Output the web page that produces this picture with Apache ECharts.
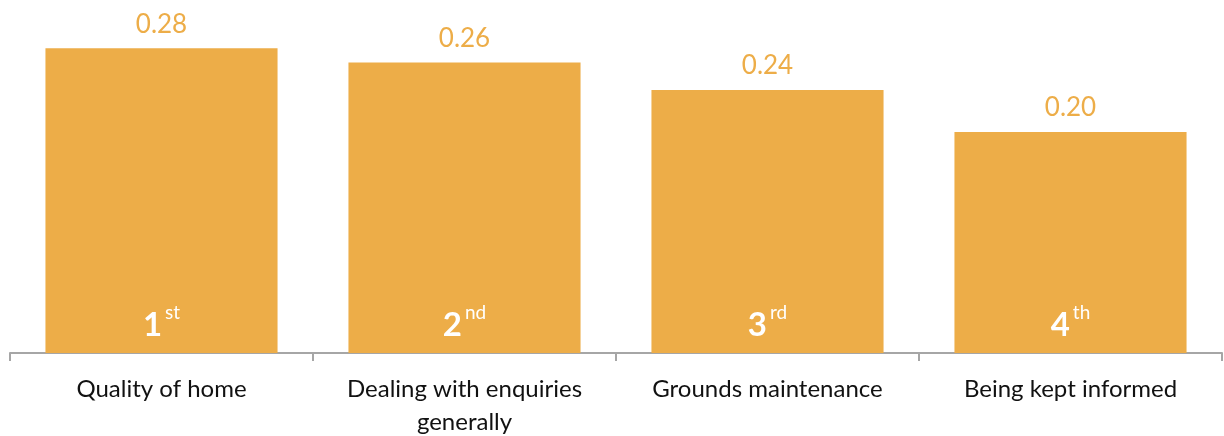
<!DOCTYPE html>
<html>
<head>
<meta charset="utf-8">
<script src="https://cdn.jsdelivr.net/npm/echarts@6/dist/echarts.min.js"></script>
<style>
html,body{margin:0;padding:0;background:#fff;}
#chart{width:1224px;height:436px;}
</style>
</head>
<body>
<div id="chart"></div>
<script>
const categories = ['Quality of home', 'Dealing with enquiries\ngenerally', 'Grounds maintenance', 'Being kept informed'];
const values = [0.277, 0.264, 0.239, 0.201];
const ranks = ['1', '2', '3', '4'];
const suffixes = ['st', 'nd', 'rd', 'th'];

const BAR = '#EDAD48';
const FONT = 'Lato, "Open Sans", sans-serif';

const chart = echarts.init(document.getElementById('chart'));
chart.setOption({
  animation: false,
  grid: { left: 10, right: 2, top: 23, bottom: 83, containLabel: false, outerBoundsMode: 'none' },
  xAxis: {
    type: 'category',
    data: categories,
    offset: 2,
    axisLine: { show: true, lineStyle: { color: '#A6A6A6', width: 2 } },
    axisTick: { show: true, length: 8, lineStyle: { color: '#A6A6A6', width: 2 } },
    axisLabel: { color: '#111', fontSize: 24, fontFamily: FONT, margin: 18, lineHeight: 33, interval: 0 }
  },
  yAxis: {
    type: 'value', min: 0, max: 0.3, show: false,
    splitLine: { show: false }
  },
  series: [
    {
      type: 'bar',
      data: values,
      barCategoryGap: '23.4%',
      itemStyle: { color: BAR },
      label: {
        show: true, position: 'top', distance: 11,
        color: BAR, fontSize: 26, fontFamily: FONT,
        formatter: p => p.value.toFixed(2)
      }
    },
    {
      type: 'bar',
      data: values,
      barGap: '-100%',
      barCategoryGap: '23.4%',
      itemStyle: { color: 'rgba(0,0,0,0)' },
      silent: true,
      label: {
        show: true, position: 'insideBottom', distance: 6,
        formatter: p => '{b|' + ranks[p.dataIndex] + '}{s|' + suffixes[p.dataIndex] + '}',
        rich: {
          b: { color: '#fff', fontSize: 33, fontWeight: 'bold', fontFamily: FONT, lineHeight: 44 },
          s: { color: '#fff', fontSize: 19, fontFamily: FONT, lineHeight: 22, verticalAlign: 'top', padding: [0, 0, 0, 3] }
        }
      }
    }
  ]
});
</script>
</body>
</html>
